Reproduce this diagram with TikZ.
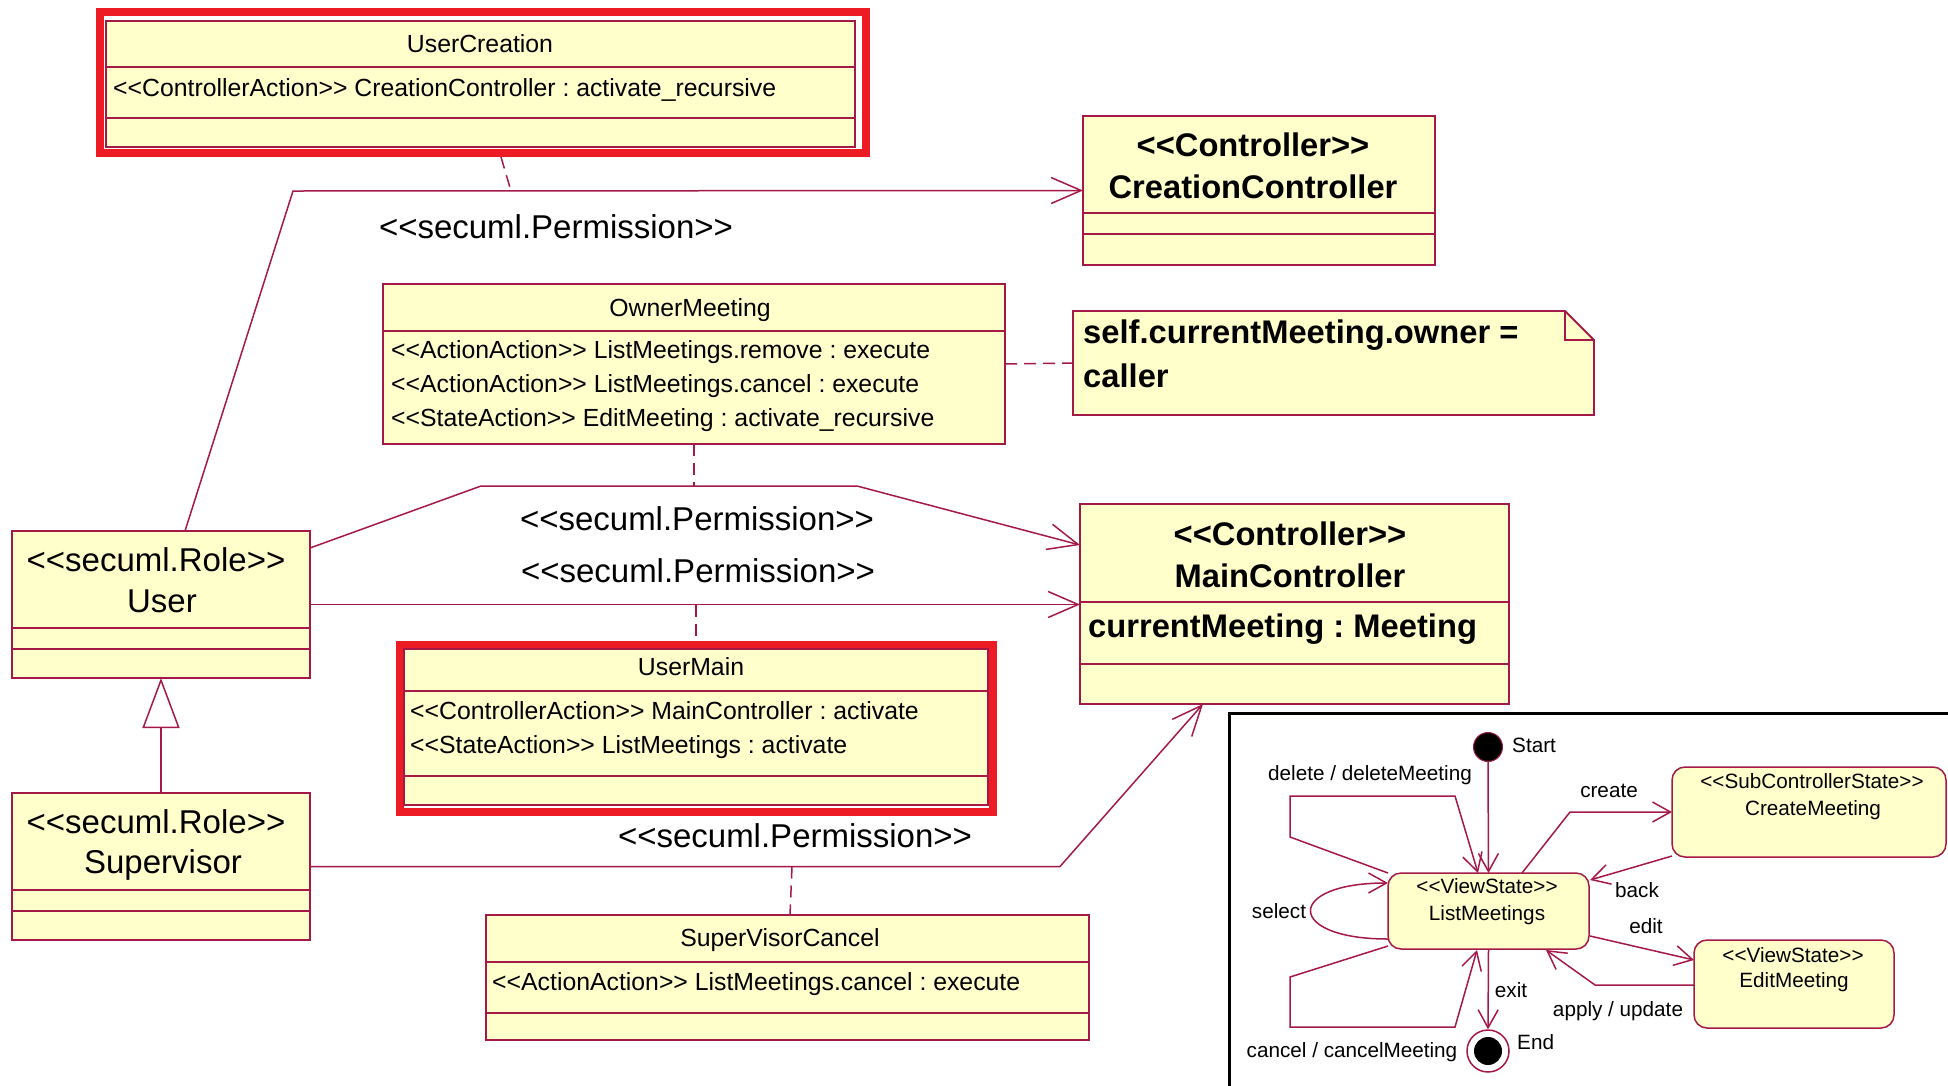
\documentclass[tikz,border=0pt]{standalone}
\usepackage{fontspec}
\setmainfont{Liberation Sans}
\usetikzlibrary{arrows.meta,calc}
\definecolor{crim}{RGB}{165,25,70}
\definecolor{yel}{RGB}{255,255,204}
\definecolor{redh}{RGB}{237,28,36}
\newcommand{\stopen}{<\kern0pt<}
\newcommand{\stclose}{>\kern0pt>}
\frenchspacing
\begin{document}
\begin{tikzpicture}[x=1pt,y=-1pt,
  cls/.style={draw=crim, fill=yel, line width=1.8pt, inner sep=0pt, outer sep=0pt, anchor=north west},
  stbox/.style={draw=crim, fill=yel, line width=1.5pt, rounded corners=13pt, inner sep=0pt, outer sep=0pt, anchor=north west},
  cmp/.style={draw=crim, line width=1.2pt},
  hl/.style={draw=redh, line width=8pt},
  t24/.style={font=\fontsize{24.8}{28}\selectfont\frenchspacing, inner sep=0pt, anchor=base},
  t33/.style={font=\fontsize{33}{38}\selectfont\frenchspacing, inner sep=0pt, anchor=base},
  b33/.style={font=\fontsize{32.7}{38}\selectfont\bfseries\frenchspacing, inner sep=0pt, anchor=base},
  t21/.style={font=\fontsize{20.7}{24}\selectfont\frenchspacing, inner sep=0pt, anchor=base},
  assoc/.style={draw=crim, line width=1.5pt},
  arr/.style={-{Straight Barb[length=30pt,width=26pt]}},
  gen/.style={-{Triangle[open,length=50pt,width=37pt,fill=white]}},
  dsh/.style={draw=crim, line width=1.5pt, dash pattern=on 12pt off 7pt},
  tr/.style={draw=crim, line width=1.5pt, -{Straight Barb[length=18pt,width=20pt]}}
]
\useasboundingbox (0,0) rectangle (1948,1085);

% ---------- UserCreation
\draw[hl] (100,12) rectangle (866,153);
\node[cls, minimum width=749pt, minimum height=126pt] (uc) at (106,21) {};
\draw[cmp] (106,67) -- (855,67) (106,118) -- (855,118);
\node[t24] (ucT) at (480,52) {UserCreation};
\node[t24, anchor=base west] (ucA) at (113,96) {\stopen ControllerAction\stclose{} CreationController : activate\_recursive};

% ---------- CreationController
\node[cls, minimum width=352pt, minimum height=149pt] (cc) at (1083,116) {};
\draw[cmp] (1083,213) -- (1435,213) (1083,234) -- (1435,234);
\node[b33] (ccS) at (1253,156) {\stopen Controller\stclose};
\node[b33] (ccN) at (1253,198) {CreationController};

% ---------- Note
\node[inner sep=0pt, outer sep=0pt, minimum width=521pt, minimum height=104pt, anchor=north west] (note) at (1073,311) {};
\filldraw[draw=crim, fill=yel, line width=1.8pt] (note.north west) -- ($(note.north east)+(-29,0)$) -- ($(note.north east)+(0,29)$) -- (note.south east) -- (note.south west) -- cycle;
\draw[draw=crim, line width=1.2pt] ($(note.north east)+(-29,0)$) -- ($(note.north east)+(-29,29)$) -- ($(note.north east)+(0,29)$);
\node[b33, anchor=base west] (noteA) at (1083,343) {self.currentMeeting.owner =};
\node[b33, anchor=base west] (noteB) at (1083,387) {caller};

% ---------- OwnerMeeting
\node[cls, minimum width=622pt, minimum height=160pt] (om) at (383,284) {};
\draw[cmp] (383,331) -- (1005,331);
\node[t24] (omT) at (690,316) {OwnerMeeting};
\node[t24, anchor=base west] (omA) at (391,358) {\stopen ActionAction\stclose{} ListMeetings.remove : execute};
\node[t24, anchor=base west] (omB) at (391,392) {\stopen ActionAction\stclose{} ListMeetings.cancel : execute};
\node[t24, anchor=base west] (omC) at (391,426) {\stopen StateAction\stclose{} EditMeeting : activate\_recursive};

% ---------- User
\node[cls, minimum width=298pt, minimum height=147pt] (user) at (12,531) {};
\draw[cmp] (12,628) -- (310,628) (12,649) -- (310,649);
\node[t33] (userS) at (156,571) {\stopen secuml.Role\stclose};
\node[t33] (userN) at (162,612) {User};

% ---------- Supervisor
\node[cls, minimum width=298pt, minimum height=147pt] (sup) at (12,793) {};
\draw[cmp] (12,890) -- (310,890) (12,911) -- (310,911);
\node[t33] (supS) at (156,833) {\stopen secuml.Role\stclose};
\node[t33] (supN) at (163,873) {Supervisor};

% ---------- UserMain
\draw[hl] (400,645) rectangle (993,812);
\node[cls, minimum width=584pt, minimum height=156pt] (um) at (404,649) {};
\draw[cmp] (404,691) -- (988,691) (404,776) -- (988,776);
\node[t24] (umT) at (691,675) {UserMain};
\node[t24, anchor=base west] (umA) at (410,719) {\stopen ControllerAction\stclose{} MainController : activate};
\node[t24, anchor=base west] (umB) at (410,753) {\stopen StateAction\stclose{} ListMeetings : activate};

% ---------- SuperVisorCancel
\node[cls, minimum width=603pt, minimum height=125pt] (svc) at (486,915) {};
\draw[cmp] (486,962) -- (1089,962) (486,1013) -- (1089,1013);
\node[t24] (svcT) at (780,946) {SuperVisorCancel};
\node[t24, anchor=base west] (svcA) at (492,990) {\stopen ActionAction\stclose{} ListMeetings.cancel : execute};

% ---------- MainController
\node[cls, minimum width=429pt, minimum height=200pt] (mc) at (1080,504) {};
\draw[cmp] (1080,602) -- (1509,602) (1080,664) -- (1509,664);
\node[b33] (mcS) at (1290,545) {\stopen Controller\stclose};
\node[b33] (mcN) at (1290,587) {MainController};
\node[b33, anchor=base west] (mcA) at (1088,637) {currentMeeting : Meeting};

% ---------- associations
\coordinate (p1) at (293,191);
\draw[assoc, arr] ($(user.north west)+(173,0)$) -- (p1) -- (cc.west);
\coordinate (p2a) at (481,486);
\coordinate (p2b) at (857,486);
\draw[assoc, arr] ($(user.north east)+(0,17)$) -- (p2a) -- (p2b) -- ($(mc.north west)+(0,41)$);
\draw[assoc, arr] (user.east) -- (user.east -| mc.west);
\coordinate (p4) at (1060,866.5);
\draw[assoc, arr] (sup.east) -- (p4) -- ($(mc.south west)+(123,0)$);
\draw[assoc, gen] (sup.north) -- (user.south);

% association classes (dashed)
\coordinate (d1a) at (501,157);
\coordinate (d1b) at (511,191);
\draw[dsh] (d1a) -- (d1b);
\draw[dsh] (om.south) -- (om.south |- p2a);
\draw[dsh] (om.east) -- (note.west);
\draw[dsh] (um.north |- user.east) -- ($(um.north)+(0,-8)$);
\coordinate (d4a) at (792,866.5);
\draw[dsh] (d4a) -- ($(svc.north)+(2.5,0)$);

% permission labels
\node[t33] (perm1) at (556,238) {\stopen secuml.Permission\stclose};
\node[t33] (perm2) at (697,530) {\stopen secuml.Permission\stclose};
\node[t33] (perm3) at (698,582) {\stopen secuml.Permission\stclose};
\node[t33] (perm4) at (795,847) {\stopen secuml.Permission\stclose};

% ---------- state machine
\draw[black, line width=3pt] (1229,1095) -- (1229,713) -- (1955,713);

\node[circle, fill=black, draw=crim, line width=1pt, minimum size=29pt, inner sep=0pt] (start) at (1488,747) {};
\node[circle, draw=crim, fill=white, line width=1.5pt, minimum size=42pt, inner sep=0pt] (endc) at (1488,1051) {};
\node[circle, fill=black, minimum size=28pt, inner sep=0pt] (endin) at (1488,1051) {};

\node[stbox, minimum width=201pt, minimum height=76pt] (lm) at (1388,873) {};
\node[stbox, minimum width=274pt, minimum height=90pt] (cm) at (1672,767) {};
\node[stbox, minimum width=200pt, minimum height=88pt] (em) at (1694,940) {};

\node[t21] (lmS) at (1487,893) {\stopen ViewState\stclose};
\node[t21] (lmN) at (1487,920) {ListMeetings};
\node[t21] (cmS) at (1812,788) {\stopen SubControllerState\stclose};
\node[t21] (cmN) at (1813,815) {CreateMeeting};
\node[t21] (emS) at (1793,962) {\stopen ViewState\stclose};
\node[t21] (emN) at (1794,987) {EditMeeting};

\draw[tr] (start.south) -- (lm.north);
\draw[tr] (lm.north west) -- (1290,837) -- (1290,796) -- (1455,796) -- ($(lm.north west)+(90,0)$);
\draw[tr] ($(lm.south west)+(0,-10)$) .. controls (1285,939) and (1285,883) .. ($(lm.north west)+(0,10)$);
\draw[tr] ($(lm.south west)+(0,-3)$) -- (1290,977) -- (1290,1027) -- (1455,1027) -- ($(lm.south west)+(89,1)$);
\draw[tr] (lm.south) -- (endc.north);
\draw[tr] ($(lm.north west)+(134,0)$) -- (1570,812) -- (cm.west);
\draw[tr] ($(cm.south west)+(0,-1)$) -- ($(lm.north east)+(1,7)$);
\draw[tr] ($(lm.north east)+(1,63)$) -- ($(em.north west)+(0,20)$);
\draw[tr] ($(em.north west)+(0,45)$) -- (1595,985) -- ($(lm.south west)+(158,1)$);

\node[t21, anchor=base west] (lStart) at (1512,752) {Start};
\node[t21, anchor=base west] (lEnd) at (1517,1049) {End};
\node[t21] (lDel) at (1370,780) {delete / deleteMeeting};
\node[t21] (lCreate) at (1609,797) {create};
\node[t21] (lBack) at (1637,897) {back};
\node[t21] (lSel) at (1279,918) {select};
\node[t21] (lEdit) at (1646,933) {edit};
\node[t21] (lExit) at (1511,997) {exit};
\node[t21] (lApply) at (1618,1016) {apply / update};
\node[t21] (lCancel) at (1352,1057) {cancel / cancelMeeting};
\end{tikzpicture}
\end{document}
